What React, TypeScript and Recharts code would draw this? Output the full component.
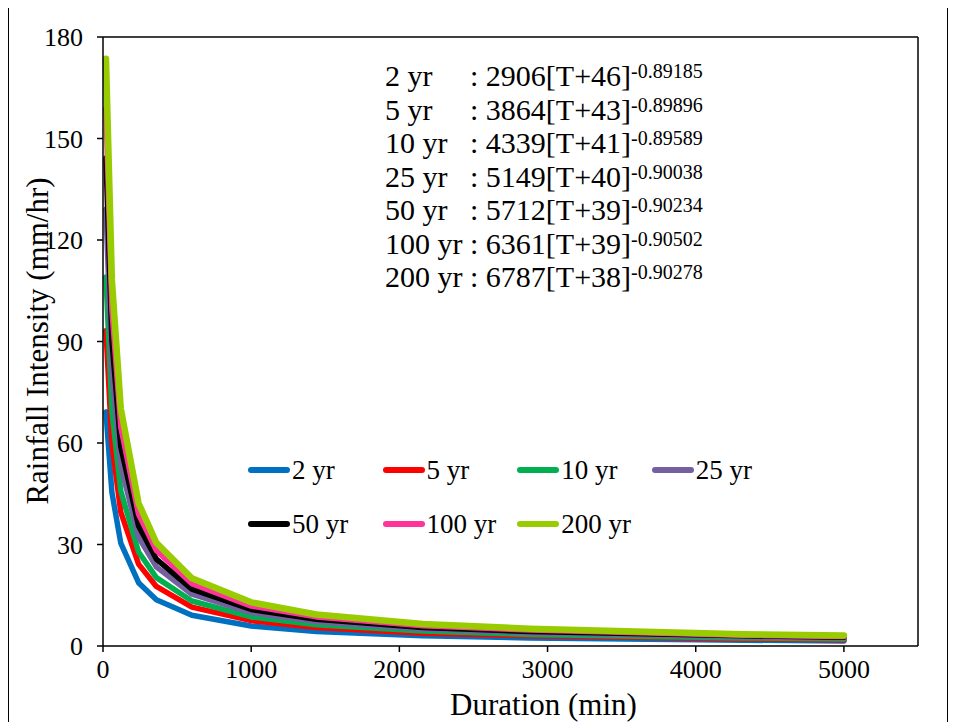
import React from 'react';
import { LineChart, Line, XAxis, YAxis, Legend, ReferenceLine } from 'recharts';

// durations (min) and intensities (mm/hr)
const durations = [20, 60, 120, 240, 360, 600, 1000, 1440, 2160, 2880, 4320, 5000];
const yr2 = [69.2, 45.4, 30.4, 18.7, 13.7, 9.1, 5.9, 4.3, 3.0, 2.4, 1.7, 1.5];
const yr5 = [93.2, 59.9, 39.6, 24.2, 17.6, 11.5, 7.5, 5.5, 3.8, 3.0, 2.1, 1.8];
const yr10 = [109.1, 69.5, 45.8, 27.8, 20.2, 13.3, 8.6, 6.3, 4.4, 3.4, 2.4, 2.1];
const yr25 = [129.1, 81.5, 53.3, 32.2, 23.4, 15.3, 9.9, 7.2, 5.0, 3.9, 2.7, 2.4];
const yr50 = [144.2, 90.4, 58.9, 35.5, 25.7, 16.8, 10.8, 7.9, 5.5, 4.3, 3.0, 2.6];
const yr100 = [158.8, 99.4, 64.7, 38.9, 28.2, 18.4, 11.8, 8.6, 6.0, 4.7, 3.2, 2.8];
const yr200 = [173.6, 108.2, 70.2, 42.2, 30.5, 20.0, 12.9, 9.3, 6.5, 5.1, 3.5, 3.1];

const xTicks = [0, 1000, 2000, 3000, 4000, 5000];
const yTicks = [0, 30, 60, 90, 120, 150, 180];

const seriesNames = ['2 yr', '5 yr', '10 yr', '25 yr', '50 yr', '100 yr', '200 yr'];
const seriesColors = ['#0070C0', '#FF0000', '#00B050', '#7460A0', '#000000', '#FF3399', '#99CC00'];
const seriesValues = [yr2, yr5, yr10, yr25, yr50, yr100, yr200];

const equationLabels = ['2 yr', '5 yr', '10 yr', '25 yr', '50 yr', '100 yr', '200 yr'];
const equationCoefs = ['2906', '3864', '4339', '5149', '5712', '6361', '6787'];
const equationShifts = ['46', '43', '41', '40', '39', '39', '38'];
const equationExps = ['-0.89185', '-0.89896', '-0.89589', '-0.90038', '-0.90234', '-0.90502', '-0.90278'];

const data = durations.map((t, i) => {
  const row: Record<string, number> = { t };
  seriesNames.forEach((name, s) => {
    row[name] = seriesValues[s][i];
  });
  return row;
});

const font = 'Tinos, "Liberation Serif", "DejaVu Serif", "Noto Serif", "Times New Roman", Times, serif';

const renderLegend = (props: any) => {
  const items = [...(props.payload || [])].sort(
    (a: any, b: any) => seriesNames.indexOf(a.value) - seriesNames.indexOf(b.value)
  );
  return (
    <div style={{ display: 'flex', flexWrap: 'wrap', width: 540, fontFamily: font, fontSize: 27, color: '#000' }}>
      {items.map((item: any) => (
        <div key={item.value} style={{ width: 134.6, height: 54, display: 'flex', alignItems: 'center' }}>
          <span style={{ display: 'inline-block', width: 42, height: 6, borderRadius: 3, background: item.color, marginRight: 2 }} />
          <span>{item.value}</span>
        </div>
      ))}
    </div>
  );
};

const App: React.FC = () => (
  <div style={{ position: 'relative', width: 938, height: 720, marginTop: -3, border: '1px solid #000', background: '#fff' }}>
    <LineChart width={938} height={720} data={data} margin={{ top: 31, right: 29, left: 0, bottom: 40 }}>
      <XAxis
        dataKey="t"
        type="number"
        domain={[0, 5500]}
        ticks={xTicks}
        height={40}
        tickSize={6}
        tickMargin={8}
        axisLine={{ stroke: '#000', strokeWidth: 1.5 }}
        tickLine={{ stroke: '#000', strokeWidth: 1.5 }}
        tick={{ fill: '#000', fontSize: 26, fontFamily: font }}
        label={{
          content: ({ viewBox }: any) => (
            <text x={viewBox.x + viewBox.width / 2 + 33} y={709} textAnchor="middle" fontSize={31} fontFamily={font} fill="#000">
              Duration (min)
            </text>
          ),
        }}
      />
      <YAxis
        type="number"
        domain={[0, 180]}
        ticks={yTicks}
        width={94}
        tickSize={6}
        tickMargin={14}
        axisLine={{ stroke: '#000', strokeWidth: 1.5 }}
        tickLine={{ stroke: '#000', strokeWidth: 1.5 }}
        tick={{ fill: '#000', fontSize: 26, fontFamily: font }}
        label={{
          content: () => (
            <text x={28} y={335} transform="rotate(-90 28 335)" textAnchor="middle" dominantBaseline="central" fontSize={31} fontFamily={font} fill="#000">
              Rainfall Intensity (mm/hr)
            </text>
          ),
        }}
      />
      <ReferenceLine y={180} stroke="#000" strokeWidth={1.5} />
      <ReferenceLine x={5500} stroke="#000" strokeWidth={1.5} />
      <Legend
        verticalAlign="middle"
        layout="horizontal"
        content={renderLegend}
        wrapperStyle={{ top: 437, left: 239, width: 540 }}
      />
      {seriesNames.map((name, s) => (
        <Line
          key={name}
          dataKey={name}
          name={name}
          type="linear"
          stroke={seriesColors[s]}
          strokeWidth={name === '200 yr' ? 6.5 : 5.5}
          strokeLinecap="round"
          strokeLinejoin="round"
          dot={false}
          activeDot={false}
          isAnimationActive={false}
        />
      ))}
    </LineChart>
    <div style={{ position: 'absolute', left: 376, top: 53, fontFamily: font, fontSize: 30, lineHeight: '33.5px', color: '#000', whiteSpace: 'nowrap' }}>
      {equationLabels.map((lab, i) => (
        <div key={lab}>
          <span style={{ display: 'inline-block', width: 85 }}>{lab}</span>
          : {equationCoefs[i]}[T+{equationShifts[i]}]
          <sup style={{ fontSize: 20, verticalAlign: 'top', position: 'relative', top: -4 }}>{equationExps[i]}</sup>
        </div>
      ))}
    </div>
  </div>
);

export default App;
